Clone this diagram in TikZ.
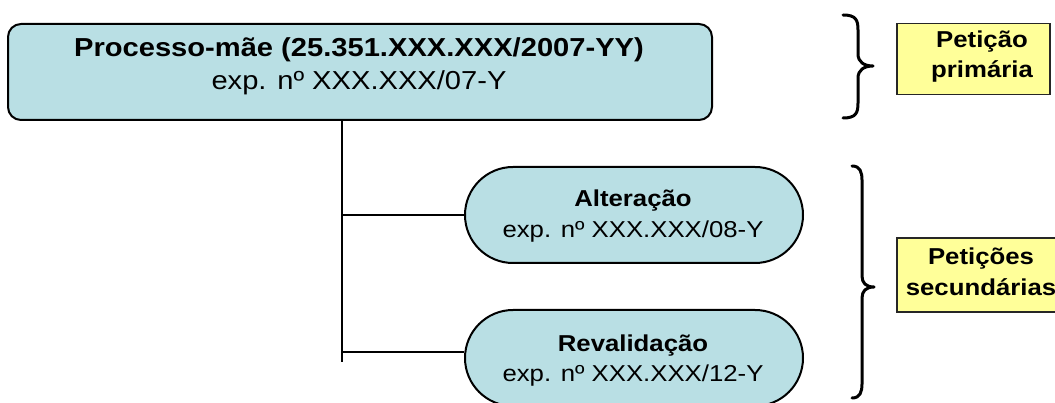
\documentclass[tikz,border=0pt]{standalone}
\usepackage{fontspec}
\setmainfont{Liberation Sans}[FakeStretch=1.12]
\usetikzlibrary{shapes.misc}
\definecolor{boxblue}{RGB}{185,223,228}
\definecolor{noteyellow}{RGB}{255,255,153}
\begin{document}
\begin{tikzpicture}[x=1pt,y=-1pt,
  mainbox/.style={draw=black, line width=2pt, fill=boxblue, rounded corners=13pt,
    minimum width=704pt, minimum height=96pt, inner sep=0pt},
  pill/.style={rounded rectangle, draw=black, line width=2pt, fill=boxblue,
    minimum width=338pt, minimum height=96pt, inner sep=0pt},
  note/.style={draw=black!85, line width=1.6pt, fill=noteyellow, inner sep=0pt},
  txt/.style={anchor=base, inner sep=0pt},
  link/.style={line width=2pt},
  bracepath/.style={line width=3pt, line cap=round, line join=round}]
\useasboundingbox (0,0) rectangle (1055,403);

% main box
\node[mainbox] (mae) at (360,72) {};
\node[txt, font=\fontsize{26}{33}\selectfont] (maet) at (359,57)
  {\begin{tabular}[t]{@{}c@{}}\bfseries Processo-mãe (25.351.XXX.XXX/2007-YY)\\ exp. nº XXX.XXX/07-Y\end{tabular}};

% pills
\node[pill] (alt) at (634,215) {};
\node[txt, font=\fontsize{23}{31}\selectfont] (altt) at (633,207)
  {\begin{tabular}[t]{@{}c@{}}\bfseries Alteração\\ exp. nº XXX.XXX/08-Y\end{tabular}};
\node[pill] (rev) at (634,358) {};
\node[txt, font=\fontsize{23}{30}\selectfont] (revt) at (633,352)
  {\begin{tabular}[t]{@{}c@{}}\bfseries Revalidação\\ exp. nº XXX.XXX/12-Y\end{tabular}};

% connectors
\coordinate (ttop) at (mae.south -| 342,0);
\coordinate (tend) at (342,362);
\coordinate (b1) at (342,215);
\coordinate (b2) at (342,352);
\draw[link] (ttop) -- (tend);
\draw[link] (b1) -- (alt.west);
\draw[link] (b2) -- ([yshift=6pt]rev.west);

% braces
\draw[bracepath] (843,15) .. controls (856,15) and (858,20) .. (858,30)
  -- (858,54) .. controls (858,62) and (864,66) .. (873,66)
  .. controls (864,66) and (858,70) .. (858,78)
  -- (858,103) .. controls (858,113) and (856,118) .. (843,118);
\draw[bracepath] (852,166) .. controls (860,166) and (862,172) .. (862,180)
  -- (862,276) .. controls (862,283) and (866,287) .. (874,287)
  .. controls (866,287) and (862,291) .. (862,298)
  -- (862,384) .. controls (862,392) and (860,398) .. (852,398);

% notes
\node[note, minimum width=153pt, minimum height=71pt] (prim) at (973.5,59) {};
\node[txt, font=\bfseries\fontsize{23}{30}\selectfont] (primt) at (982,48)
  {\begin{tabular}[t]{@{}c@{}}Petição\\ primária\end{tabular}};
\node[note, minimum width=172pt, minimum height=74pt] (sec) at (983,275) {};
\node[txt, font=\bfseries\fontsize{23}{31}\selectfont] (sect) at (981,265)
  {\begin{tabular}[t]{@{}c@{}}Petições\\ secundárias\end{tabular}};
\end{tikzpicture}
\end{document}
